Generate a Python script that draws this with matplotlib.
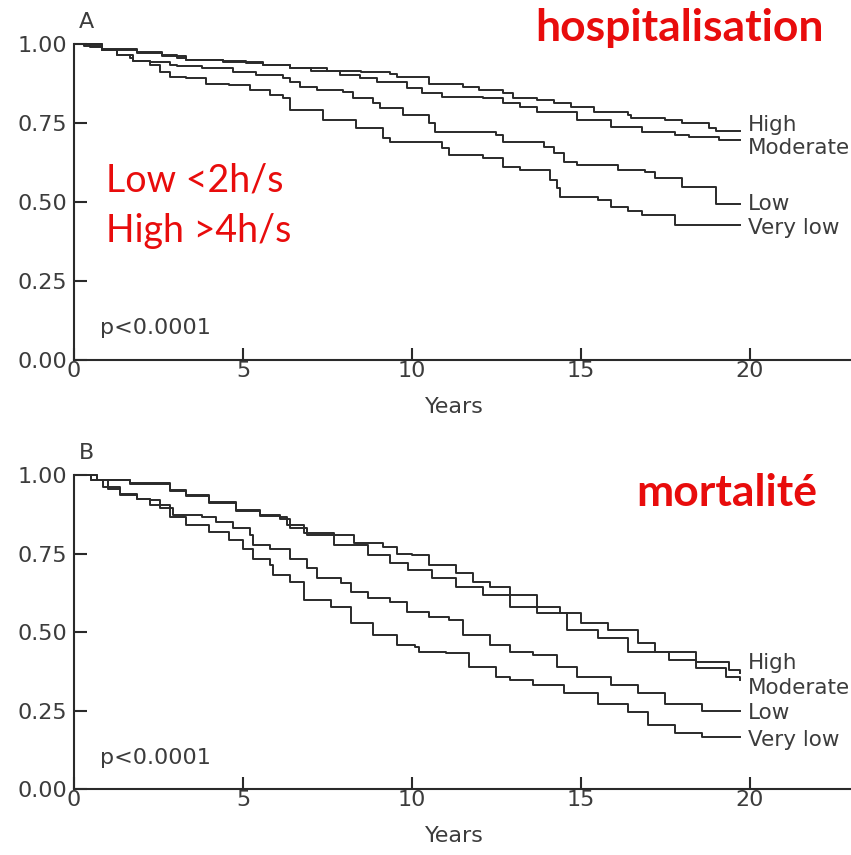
import matplotlib.pyplot as plt

# panel A: time to first hospitalisation, by activity group
hosp_high_t = [0, 0.47, 0.83, 1.85, 2.6, 3.05, 3.3, 4.4, 5.1, 5.6, 6.4, 7.5, 8.5, 9.35, 9.55, 10.5,
               11.5, 12.0, 12.7, 13.0, 13.7, 14.2, 14.7, 15.4, 16.4, 16.5, 17.5, 18.0, 18.8, 19.0, 19.7]
hosp_high_v = [1.0, 0.992, 0.981, 0.973, 0.965, 0.955, 0.949, 0.946, 0.939, 0.934, 0.923, 0.915, 0.91,
               0.905, 0.897, 0.875, 0.865, 0.855, 0.844, 0.83, 0.823, 0.813, 0.80, 0.786, 0.775, 0.765,
               0.759, 0.749, 0.733, 0.726, 0.726]

hosp_mod_t = [0, 0.3, 0.83, 1.85, 2.6, 3.3, 4.4, 5.6, 6.4, 7.0, 7.87, 8.46, 8.96, 9.85, 10.3, 10.9,
              12.1, 12.7, 13.2, 13.7, 14.9, 15.9, 16.8, 17.8, 18.2, 19.1, 19.7]
hosp_mod_v = [1.0, 0.995, 0.985, 0.975, 0.963, 0.95, 0.944, 0.934, 0.923, 0.915, 0.902, 0.891, 0.881,
              0.86, 0.844, 0.833, 0.828, 0.812, 0.802, 0.786, 0.759, 0.738, 0.722, 0.712, 0.705, 0.696,
              0.696]

hosp_low_t = [0, 0.83, 1.27, 1.66, 1.75, 2.25, 2.84, 3.05, 3.8, 4.7, 5.4, 6.2, 6.39, 6.69, 7.18, 7.97,
              8.26, 8.85, 9.05, 9.74, 10.5, 10.7, 12.5, 12.7, 13.9, 14.2, 14.5, 14.9, 16.1, 16.9, 17.2,
              18.0, 19.0, 19.7]
hosp_low_v = [1.0, 0.981, 0.965, 0.955, 0.947, 0.944, 0.934, 0.929, 0.923, 0.912, 0.902, 0.891, 0.881,
              0.865, 0.854, 0.849, 0.828, 0.812, 0.796, 0.775, 0.749, 0.722, 0.712, 0.691, 0.675, 0.655,
              0.628, 0.617, 0.601, 0.596, 0.575, 0.547, 0.494, 0.494]

hosp_vlow_t = [0, 0.83, 1.27, 1.75, 2.25, 2.54, 2.84, 3.3, 3.9, 4.6, 5.2, 5.8, 6.2, 6.4, 7.37, 8.36,
               9.15, 9.35, 10.9, 11.1, 12.1, 12.7, 13.2, 14.1, 14.3, 14.4, 15.5, 15.9, 16.4, 16.8, 17.8,
               19.7]
hosp_vlow_v = [1.0, 0.981, 0.965, 0.947, 0.934, 0.912, 0.897, 0.891, 0.875, 0.87, 0.854, 0.838, 0.828,
               0.791, 0.759, 0.733, 0.701, 0.691, 0.67, 0.649, 0.638, 0.612, 0.601, 0.57, 0.543, 0.517,
               0.506, 0.485, 0.47, 0.459, 0.427, 0.427]

# panel B: survival
mort_high_t = [0, 0.67, 1.66, 2.84, 3.3, 4.0, 4.8, 5.5, 6.1, 6.3, 6.8, 7.7, 8.3, 9.15, 9.55, 10.0, 10.5,
               11.3, 11.8, 12.3, 12.9, 13.7, 14.4, 15.0, 15.8, 16.7, 17.2, 18.4, 19.4, 19.7]
mort_high_v = [1.0, 0.984, 0.974, 0.952, 0.936, 0.915, 0.889, 0.873, 0.867, 0.841, 0.814, 0.809, 0.783,
               0.772, 0.75, 0.745, 0.713, 0.687, 0.66, 0.644, 0.618, 0.581, 0.559, 0.528, 0.506, 0.464,
               0.437, 0.405, 0.379, 0.368]

mort_mod_t = [0, 0.67, 1.66, 2.84, 3.3, 4.0, 4.8, 5.5, 6.1, 6.4, 6.9, 7.7, 8.7, 9.35, 9.9, 10.6, 11.3,
              12.1, 12.9, 13.7, 14.6, 15.5, 16.4, 17.6, 18.4, 19.3, 19.7]
mort_mod_v = [1.0, 0.984, 0.972, 0.95, 0.934, 0.912, 0.887, 0.87, 0.86, 0.83, 0.809, 0.777, 0.745,
              0.719, 0.697, 0.671, 0.644, 0.618, 0.581, 0.559, 0.506, 0.48, 0.437, 0.411, 0.384, 0.357,
              0.347]

mort_low_t = [0, 0.5, 0.87, 1.36, 1.85, 2.25, 2.54, 2.93, 3.8, 4.2, 4.7, 5.2, 5.3, 5.8, 6.4, 6.9, 7.2,
              7.9, 8.2, 8.7, 9.35, 9.85, 10.5, 11.1, 11.5, 12.3, 12.9, 13.6, 14.3, 14.9, 15.9, 16.7,
              17.5, 18.6, 19.7]
mort_low_v = [1.0, 0.985, 0.963, 0.936, 0.925, 0.92, 0.894, 0.873, 0.867, 0.851, 0.83, 0.809, 0.777,
              0.766, 0.734, 0.703, 0.671, 0.655, 0.628, 0.607, 0.597, 0.565, 0.549, 0.538, 0.49, 0.459,
              0.437, 0.427, 0.389, 0.357, 0.331, 0.305, 0.272, 0.25, 0.25]

mort_vlow_t = [0, 0.5, 1.0, 1.36, 1.85, 2.25, 2.84, 3.3, 4.0, 4.6, 5.0, 5.3, 5.8, 5.9, 6.4, 6.8, 7.6,
               8.2, 8.85, 9.55, 10.1, 10.2, 11.0, 11.7, 12.5, 12.9, 13.6, 14.5, 15.5, 16.4, 17.0, 17.8,
               18.6, 19.7]
mort_vlow_v = [1.0, 0.985, 0.955, 0.94, 0.925, 0.905, 0.867, 0.841, 0.819, 0.793, 0.766, 0.734, 0.713,
               0.682, 0.66, 0.602, 0.581, 0.528, 0.49, 0.459, 0.453, 0.437, 0.432, 0.389, 0.357, 0.347,
               0.331, 0.305, 0.272, 0.246, 0.204, 0.177, 0.166, 0.166]

group_names = ["High", "Moderate", "Low", "Very low"]
hosp_label_y = [0.744, 0.671, 0.494, 0.418]
mort_label_y = [0.401, 0.322, 0.242, 0.156]

x_ticks = [0, 5, 10, 15, 20]
y_ticks = [0, 0.25, 0.5, 0.75, 1.0]
y_ticklabels = ["0.00", "0.25", "0.50", "0.75", "1.00"]

INK = "#2a2a2a"
GREY = "#3c3c3c"
RED = "#e80c0c"

fig = plt.figure(figsize=(8.51, 8.55), dpi=100)
ax_a = fig.add_axes([0.087, 0.579, 0.913, 0.3695])
ax_b = fig.add_axes([0.087, 0.0772, 0.913, 0.3672])


def km_panel(ax, curves, label_y, letter):
    for t, v in curves:
        ax.step(t, v, where="post", color=INK, lw=1.4, clip_on=False)
    for name, y in zip(group_names, label_y):
        ax.text(19.95, y, name, fontsize=15.5, color=GREY, va="center", ha="left")
    ax.set_xlim(0, 23)
    ax.set_ylim(0, 1.0)
    ax.set_xticks(x_ticks)
    ax.set_yticks(y_ticks)
    ax.set_yticklabels(y_ticklabels)
    for s in ["top", "right"]:
        ax.spines[s].set_visible(False)
    for s in ["left", "bottom"]:
        ax.spines[s].set_linewidth(1.5)
        ax.spines[s].set_color(INK)
    ax.tick_params(direction="in", length=9, width=1.5, color=INK,
                   labelsize=16, labelcolor=GREY)
    ax.tick_params(axis="y", pad=5)
    ax.tick_params(axis="x", pad=1)
    ax.set_xlabel("Years", fontsize=16, color=GREY)
    ax.xaxis.set_label_coords(0.49, -0.118)
    ax.text(0.033, 0.1, "p<0.0001", transform=ax.transAxes, fontsize=16,
            color=GREY, va="center", ha="left")
    ax.text(0.006, 1.07, letter, transform=ax.transAxes, fontsize=16,
            color=GREY, va="center", ha="left")


km_panel(ax_a, [(hosp_high_t, hosp_high_v), (hosp_mod_t, hosp_mod_v),
                (hosp_low_t, hosp_low_v), (hosp_vlow_t, hosp_vlow_v)], hosp_label_y, "A")
km_panel(ax_b, [(mort_high_t, mort_high_v), (mort_mod_t, mort_mod_v),
                (mort_low_t, mort_low_v), (mort_vlow_t, mort_vlow_v)], mort_label_y, "B")

# red overlay notes
fig.text(0.968, 0.967, "hospitalisation", fontsize=32, fontweight="bold", color=RED,
         family="Lato", ha="right", va="center")
fig.text(0.96, 0.423, "mortalité", fontsize=32, fontweight="bold", color=RED,
         family="Lato", ha="right", va="center")
fig.text(0.124, 0.789, "Low <2h/s", fontsize=27, color=RED, family="Lato",
         ha="left", va="center")
fig.text(0.124, 0.730, "High >4h/s", fontsize=27, color=RED, family="Lato",
         ha="left", va="center")

fig.savefig("out.png", dpi=100)
